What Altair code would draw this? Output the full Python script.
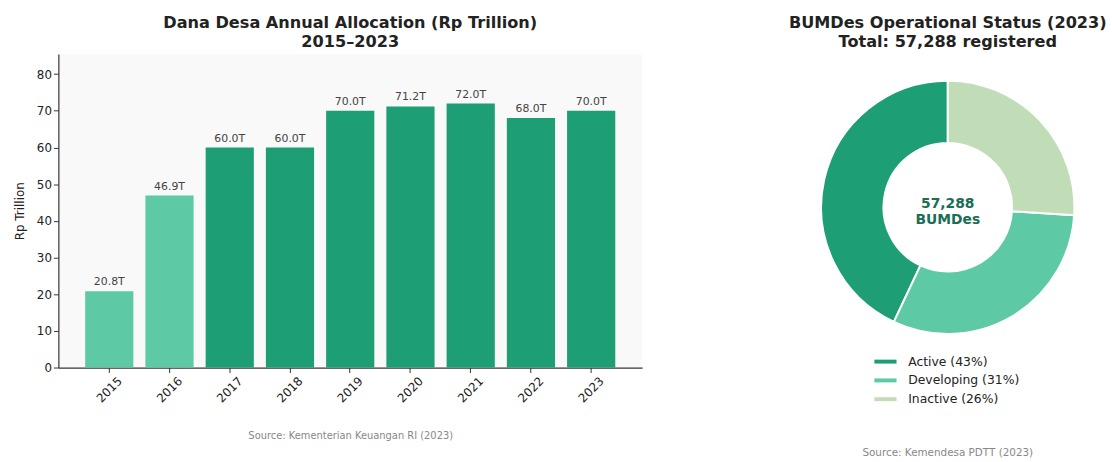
import altair as alt
import pandas as pd

FONT = "DejaVu Sans"

# ---- Data ----
years = ["2015", "2016", "2017", "2018", "2019", "2020", "2021", "2022", "2023"]
allocation = [20.8, 46.9, 60.0, 60.0, 70.0, 71.2, 72.0, 68.0, 70.0]
tier = ["early", "early", "full", "full", "full", "full", "full", "full", "full"]

status = ["Active", "Developing", "Inactive"]
share = [43, 31, 26]
status_order = [2, 1, 0]  # drawn clockwise from 12 o'clock: Inactive, Developing, Active
total_bumdes = "57,288"

DARK = "#1d9e75"
LIGHT = "#5dcaa5"
PALE = "#c1ddb8"

bars_df = pd.DataFrame({
    "Year": years,
    "Value": allocation,
    "Tier": tier,
    "Label": [f"{v:.1f}T" for v in allocation],
})

legend_labels = [f"{s} ({p}%)" for s, p in zip(status, share)]
pie_df = pd.DataFrame({
    "Status": status,
    "Share": share,
    "ord": status_order,
    "Legend": legend_labels,
})

# ---- Left: bar chart ----
xenc = alt.X(
    "Year:N",
    sort=years,
    scale=alt.Scale(paddingInner=0.2, paddingOuter=0.445),
    axis=alt.Axis(
        title="Source: Kementerian Keuangan RI (2023)",
        titleColor="#888888", titleFontSize=10, titleFontWeight="normal",
        titlePadding=27, titleFont=FONT,
        labelAngle=-45, labelAlign="center", labelBaseline="middle",
        labelPadding=17, labelFontSize=12, labelColor="#222222", labelFont=FONT,
        domainColor="#333333", domainWidth=1.2, tickColor="#333333", tickSize=5,
    ),
)

yenc = alt.Y(
    "Value:Q",
    scale=alt.Scale(domain=[0, 85.5], nice=False),
    axis=alt.Axis(
        title="Rp Trillion", titleFontSize=12, titleFontWeight="normal",
        titleColor="#222222", titleFont=FONT, titlePadding=10,
        values=[0, 10, 20, 30, 40, 50, 60, 70, 80], labelOverlap=False,
        labelFontSize=12, labelColor="#222222", labelFont=FONT,
        domainColor="#333333", domainWidth=1.2, tickColor="#333333", tickSize=5, grid=False,
    ),
)

base = alt.Chart(bars_df).encode(x=xenc, y=yenc)

bars = base.mark_bar().encode(
    color=alt.Color("Tier:N", scale=alt.Scale(domain=["early", "full"], range=[LIGHT, DARK]), legend=None),
)

bar_text = base.mark_text(
    dy=-9, fontSize=11, color="#444444", font=FONT
).encode(text="Label:N")

left = alt.layer(bars, bar_text).properties(
    width=590, height=317,
    view=alt.ViewBackground(fill="#f9f9f9", stroke=None),
    title=alt.TitleParams(
        ["Dana Desa Annual Allocation (Rp Trillion)", "2015\u20132023"],
        fontSize=16.3, font=FONT, fontWeight="bold", color="#222222",
        anchor="middle", lineHeight=19, offset=4,
    ),
)

# ---- Right: donut ----
arc = alt.Chart(pie_df).mark_arc(
    outerRadius=128, innerRadius=65, stroke="white", strokeWidth=2
).encode(
    theta=alt.Theta("Share:Q", stack=True),
    order=alt.Order("ord:Q"),
    color=alt.Color(
        "Legend:N",
        sort=legend_labels,
        scale=alt.Scale(domain=legend_labels, range=[DARK, LIGHT, PALE]),
        legend=alt.Legend(
            title=None, orient="none", legendX=59, legendY=303,
            symbolType="M-1.4,-0.25L1.4,-0.25L1.4,0.25L-1.4,0.25Z", symbolSize=256,
            symbolStrokeWidth=0, labelFontSize=12.5, labelFont=FONT,
            labelColor="#222222", rowPadding=4, labelOffset=15,
        ),
    ),
)

center1 = alt.Chart(pd.DataFrame({"t": [total_bumdes]})).mark_text(
    fontSize=14, fontWeight="bold", color="#1a6e55", font=FONT, dy=-3
).encode(text="t:N", x=alt.value(130), y=alt.value(155))
center2 = alt.Chart(pd.DataFrame({"t": ["BUMDes"]})).mark_text(
    fontSize=14, fontWeight="bold", color="#1a6e55", font=FONT, dy=13
).encode(text="t:N", x=alt.value(130), y=alt.value(155))

source_r = alt.Chart(pd.DataFrame({"t": ["Source: Kemendesa PDTT (2023)"]})).mark_text(
    fontSize=10.5, color="#888888", font=FONT
).encode(text="t:N", x=alt.value(130), y=alt.value(403))

right = alt.layer(arc, center1, center2, source_r).properties(
    width=260, height=310,
    view=alt.ViewBackground(stroke=None),
    title=alt.TitleParams(
        ["BUMDes Operational Status (2023)", "Total: 57,288 registered"],
        fontSize=16.3, font=FONT, fontWeight="bold", color="#222222",
        anchor="middle", lineHeight=19, offset=4,
    ),
)

chart = alt.hconcat(left, right, spacing=179, bounds="flush").properties(
    padding={"left": 13, "top": 12, "right": 5, "bottom": 5},
    background="white",
).resolve_scale(color="independent")

chart.save("out.html", embed_options={"renderer": "svg", "actions": False})
